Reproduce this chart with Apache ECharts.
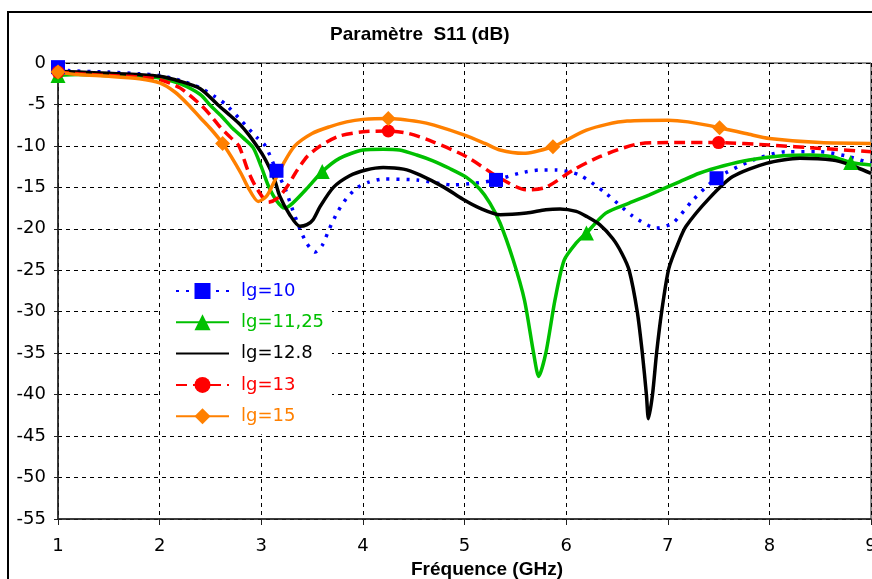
<!DOCTYPE html>
<html><head><meta charset="utf-8">
<script src="https://cdn.jsdelivr.net/npm/echarts@6/dist/echarts.min.js"></script>
<style>html,body{margin:0;padding:0;background:#fff}#c{width:872px;height:579px}</style>
</head><body><div id="c"></div>
<script>
// ---- data (frequency in GHz, S11 in dB) ----
const seriesNames = ['lg=10', 'lg=11,25', 'lg=12.8', 'lg=13', 'lg=15'];

const lg10Freq = [1.0, 1.1, 1.5, 1.8, 2.0, 2.2, 2.4, 2.55, 2.65, 2.8, 2.95, 3.04, 3.15, 3.23, 3.3, 3.38, 3.45, 3.53, 3.6, 3.67, 3.75, 3.84, 3.95, 4.05, 4.2, 4.53, 4.89, 5.1, 5.31, 5.54, 5.75, 5.9, 6.13, 6.39, 6.66, 6.89, 7.05, 7.25, 7.48, 7.84, 8.17, 8.49, 8.75, 9.0];
const lg10S11  = [-0.5, -0.9, -1.1, -1.3, -1.5, -2.1, -3.0, -4.1, -5.0, -6.9, -8.9, -10.0, -13.0, -15.0, -17.4, -20.0, -21.8, -22.8, -22.0, -20.0, -18.0, -16.3, -15.0, -14.4, -14.0, -14.1, -14.7, -14.5, -14.1, -13.3, -12.9, -12.9, -13.5, -15.7, -18.5, -19.9, -19.3, -16.5, -13.9, -11.7, -10.7, -10.7, -11.2, -12.1];
const lg10Markers = [1.0, 3.15, 5.31, 7.48];

const lg1125Freq = [1.0, 1.2, 1.5, 1.8, 2.0, 2.2, 2.4, 2.49, 2.6, 2.72, 2.82, 2.92, 3.0, 3.07, 3.15, 3.23, 3.31, 3.46, 3.6, 3.77, 4.0, 4.2, 4.36, 4.53, 4.69, 4.85, 5.02, 5.15, 5.25, 5.35, 5.48, 5.59, 5.68, 5.73, 5.8, 5.89, 5.98, 6.1, 6.2, 6.39, 6.62, 6.82, 7.12, 7.31, 7.55, 7.8, 8.13, 8.4, 8.62, 8.8, 9.0];
const lg1125S11  = [-1.5, -1.4, -1.5, -1.6, -1.8, -2.5, -3.8, -5.0, -6.3, -7.9, -9.0, -10.2, -12.5, -14.8, -16.6, -17.5, -16.9, -15.0, -13.1, -11.5, -10.5, -10.4, -10.5, -11.1, -11.8, -12.7, -13.8, -15.2, -16.9, -19.3, -23.8, -28.6, -35.0, -37.8, -35.0, -28.6, -23.8, -21.7, -20.5, -18.1, -16.9, -15.9, -14.3, -13.3, -12.4, -11.7, -11.2, -11.1, -11.3, -12.0, -12.3];
const lg1125Markers = [1.0, 3.6, 6.2, 8.8];

const lg128Freq = [1.0, 1.2, 1.5, 1.8, 2.0, 2.2, 2.4, 2.57, 2.7, 2.79, 2.88, 2.95, 3.02, 3.08, 3.13, 3.18, 3.28, 3.38, 3.45, 3.51, 3.58, 3.71, 3.87, 4.03, 4.2, 4.4, 4.56, 4.8, 4.98, 5.15, 5.35, 5.61, 5.8, 5.94, 6.1, 6.2, 6.33, 6.46, 6.55, 6.62, 6.7, 6.75, 6.79, 6.81, 6.85, 6.89, 6.94, 7.01, 7.1, 7.18, 7.41, 7.64, 7.97, 8.3, 8.62, 8.8, 9.0];
const lg128S11  = [-1.0, -1.1, -1.25, -1.4, -1.6, -2.2, -3.1, -5.0, -6.4, -7.4, -8.7, -9.9, -11.2, -12.6, -14.0, -16.0, -18.3, -19.7, -19.5, -18.9, -17.3, -15.0, -13.6, -12.9, -12.6, -12.8, -13.5, -15.0, -16.4, -17.5, -18.3, -18.1, -17.7, -17.6, -17.9, -18.5, -19.5, -21.2, -23.0, -25.0, -30.0, -35.0, -40.0, -42.9, -40.0, -35.0, -30.0, -24.8, -21.8, -19.7, -16.3, -13.7, -12.1, -11.5, -11.7, -12.3, -13.3];
const lg128Markers = [];

const lg13Freq = [1.0, 1.2, 1.5, 1.8, 2.0, 2.2, 2.4, 2.5, 2.6, 2.7, 2.78, 2.87, 2.95, 3.07, 3.16, 3.25, 3.35, 3.45, 3.58, 3.77, 4.0, 4.25, 4.45, 4.69, 5.02, 5.35, 5.61, 5.8, 6.07, 6.33, 6.69, 7.0, 7.5, 8.0, 8.5, 9.0];
const lg13S11  = [-1.1, -1.3, -1.5, -1.7, -2.0, -3.0, -5.0, -6.3, -7.8, -9.0, -10.0, -13.0, -15.0, -16.8, -16.3, -15.0, -13.0, -11.3, -10.0, -8.8, -8.3, -8.2, -8.5, -9.5, -11.3, -13.9, -15.3, -15.0, -12.9, -11.3, -9.8, -9.6, -9.6, -9.9, -10.3, -10.7];
const lg13Markers = [1.0, 4.25, 7.5];

const lg15Freq = [1.0, 1.2, 1.5, 1.8, 2.0, 2.15, 2.28, 2.4, 2.5, 2.62, 2.7, 2.8, 2.87, 2.97, 3.05, 3.12, 3.22, 3.33, 3.5, 3.67, 3.84, 4.0, 4.25, 4.56, 4.7, 5.0, 5.2, 5.35, 5.58, 5.87, 6.0, 6.2, 6.4, 6.6, 7.0, 7.2, 7.51, 7.8, 8.0, 8.5, 9.0];
const lg15S11  = [-1.1, -1.4, -1.6, -1.9, -2.4, -3.5, -5.0, -6.6, -7.9, -9.7, -11.2, -13.3, -15.0, -16.7, -16.1, -14.5, -12.1, -10.0, -8.5, -7.7, -7.1, -6.8, -6.7, -7.1, -7.5, -8.7, -9.7, -10.5, -10.9, -10.1, -9.3, -8.1, -7.4, -7.0, -6.9, -7.1, -7.8, -8.6, -9.1, -9.6, -9.7];
const lg15Markers = [1.0, 2.62, 4.25, 5.87, 7.51];

const xTickValues = [1, 2, 3, 4, 5, 6, 7, 8, 9];
const yTickValues = [0, -5, -10, -15, -20, -25, -30, -35, -40, -45, -50, -55];

// ---- build ----
function pairs(xs, ys) { return xs.map((x, i) => [x, ys[i]]); }
function markerSize(markers, size) {
  return function (val) { return markers.indexOf(val[0]) >= 0 ? size : 0; };
}

const defs = [
  { name: seriesNames[0], x: lg10Freq, y: lg10S11, m: lg10Markers, color: '#0000ff', symbol: 'rect', size: 14, type: [3, 7] },
  { name: seriesNames[1], x: lg1125Freq, y: lg1125S11, m: lg1125Markers, color: '#00c000', symbol: 'triangle', size: 15, type: 'solid' },
  { name: seriesNames[2], x: lg128Freq, y: lg128S11, m: lg128Markers, color: '#000000', symbol: 'circle', size: 0, type: 'solid' },
  { name: seriesNames[3], x: lg13Freq, y: lg13S11, m: lg13Markers, color: '#ff0000', symbol: 'circle', size: 13, type: [11, 6] },
  { name: seriesNames[4], x: lg15Freq, y: lg15S11, m: lg15Markers, color: '#ff8000', symbol: 'diamond', size: 15, type: 'solid' }
];

const series = defs.map(d => ({
  name: d.name,
  type: 'line',
  data: pairs(d.x, d.y),
  smooth: 0.25,
  showSymbol: true,
  showAllSymbol: true,
  symbol: d.symbol,
  symbolSize: markerSize(d.m, d.size),
  itemStyle: { color: d.color },
  lineStyle: { color: d.color, width: 3.5, type: d.type },
  emphasis: { disabled: true },
  animation: false
}));

const chart = echarts.init(document.getElementById('c'), null, { renderer: 'canvas' });
chart.setOption({
  backgroundColor: '#ffffff',
  animation: false,
  title: {
    text: 'Paramètre  S11 (dB)',
    left: 330, top: 25, padding: 0,
    textStyle: { fontFamily: 'Liberation Sans', fontWeight: 'bold', fontSize: 19, color: '#000' }
  },
  graphic: [{
    type: 'rect', shape: { x: 8, y: 12, width: 900, height: 600 },
    style: { fill: 'none', stroke: '#000', lineWidth: 2 }, z: -1
  }],
  grid: { left: 58, top: 63, right: 1, bottom: 60, outerBoundsMode: 'none', containLabel: false,
          show: true, borderColor: '#222', borderWidth: 1 },
  legend: {
    orient: 'vertical', left: 162, top: 273,
    padding: [9, 8, 9, 13],
    backgroundColor: '#ffffff',
    itemWidth: 53, itemHeight: 20, itemGap: 13.3,
    textStyle: { fontFamily: 'DejaVu Sans', fontSize: 18, lineHeight: 18, padding: [0, 0, 0, 7] },
    data: defs.map(d => ({
      name: d.name,
      textStyle: { color: d.color },
      itemStyle: d.size === 0 ? { opacity: 0 } : undefined
    }))
  },
  xAxis: {
    type: 'value', min: 1, max: 9, interval: 1,
    name: 'Fréquence (GHz)', nameLocation: 'middle', nameGap: 38,
    nameTextStyle: { fontFamily: 'Liberation Sans', fontWeight: 'bold', fontSize: 19, color: '#000', padding: [0, 0, 0, 45] },
    axisLine: { show: true, onZero: false, lineStyle: { color: '#222', width: 1.5 } },
    axisTick: { show: true, length: 6, lineStyle: { color: '#222' } },
    axisLabel: { fontFamily: 'DejaVu Sans', fontSize: 18, color: '#000', margin: 18,
      formatter: v => xTickValues.indexOf(v) >= 0 ? String(v) : '' },
    splitLine: { show: true, lineStyle: { color: '#000', type: [4, 4], width: 1 } }
  },
  yAxis: {
    type: 'value', min: -55, max: 0, interval: 5,
    axisLine: { show: true, onZero: false, lineStyle: { color: '#222', width: 1.5 } },
    axisTick: { show: true, length: 4, lineStyle: { color: '#222' } },
    axisLabel: { fontFamily: 'DejaVu Sans', fontSize: 18, color: '#000', margin: 12,
      formatter: v => yTickValues.indexOf(v) >= 0 ? String(v) : '' },
    splitLine: { show: true, lineStyle: { color: '#000', type: [4, 4], width: 1 } }
  },
  series: series
});
</script></body></html>
